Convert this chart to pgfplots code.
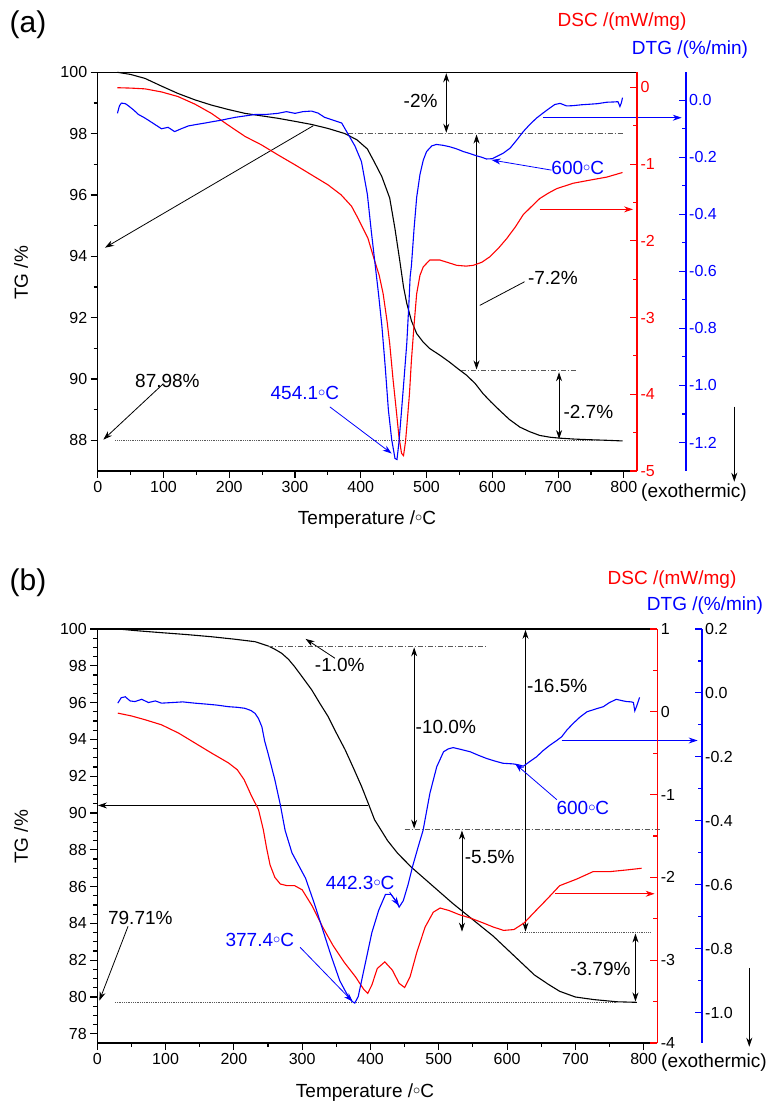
\documentclass[border=0pt]{standalone}
\usepackage{fontspec}
\setmainfont{Liberation Sans}
\usepackage{pgfplots}
\pgfplotsset{compat=1.18}
\usetikzlibrary{arrows.meta}

\newcommand{\fs}[1]{\fontsize{#1}{#1}\selectfont}
\newcommand{\dc}{\raisebox{3.2pt}{\fs{15}$\circ$}C}

\pgfplotsset{
  panel/.style={scale only axis, anchor=south west, xmin=0, clip=false,
    /pgf/number format/assume math mode=true,
    tick label style={font=\fs{16}},
    major tick length=7pt, minor tick length=4pt},
  tgaxis/.style={panel, xmax=820,
    axis x line*=bottom, axis y line*=left, tick align=outside,
    axis line style={line width=1.5pt},
    tick style={black, line width=1.1pt},
    xtick={0,100,...,800}, minor x tick num=1},
  sideaxis/.style 2 args={panel, axis x line=none, axis y line*=right,
    tick align=inside,
    axis line style={draw=#1, line width=1.6pt},
    every outer y axis line/.append style={draw=#1, line width=1.6pt},
    tick style={draw=#1, line width=1.1pt},
    yticklabel style={#2}},
  dtgfmt/.style={yticklabel style={/pgf/number format/.cd, fixed, fixed zerofill, precision=1}},
}
\tikzset{
  ann/.style={line width=0.8pt},
  arr/.style={ann, -{Stealth[length=9pt,width=6pt]}},
  darr/.style={ann, {Stealth[length=9pt,width=6pt]}-{Stealth[length=9pt,width=6pt]}},
  dashdot/.style={gray!70!black, line width=0.8pt, dash pattern=on 5pt off 2pt on 1pt off 2pt},
  dotl/.style={gray!70!black, line width=0.9pt, dash pattern=on 1pt off 0.8pt},
  txt/.style={font=\fs{19}, inner sep=0pt},
}

\begin{document}
\begin{tikzpicture}[x=1pt,y=1pt]
\useasboundingbox (0,0) rectangle (768,1105);

% ---------------- panel (a) ----------------
\begin{axis}[tgaxis, at={(97.7pt,634pt)}, width=539.3pt, height=398.7pt,
  ymin=87, ymax=100, ytick={88,90,...,100}, minor y tick num=1]
\addplot[black, line width=1.1pt] coordinates {
(30,100.0) (50,99.93) (72,99.8) (97,99.55) (122,99.31) (148,99.1) (173,98.93)
(198,98.79) (224,98.66) (249,98.58) (274,98.5) (300,98.4) (325,98.3) (350,98.17)
(376,98.0) (394,97.8) (410,97.5) (420,97.1) (432,96.6) (444,95.9) (452,94.9)
(459,93.9) (465,93.0) (470,92.46) (477,91.9) (485,91.48) (495,91.2) (505,90.99)
(520,90.78) (535,90.55) (548,90.33) (561,90.12) (574,89.85) (586,89.52) (598,89.25)
(611,88.98) (626,88.68) (642,88.43) (657,88.28) (672,88.16) (688,88.1) (703,88.07)
(725,88.04) (748,88.02) (775,88.0) (798,87.98)};
\draw[black, line width=1.5pt] (rel axis cs:0,1) -- (rel axis cs:1,1);
% annotations
\draw[dashdot] (axis cs:380,98) -- (axis cs:800,98);
\draw[darr] (axis cs:530,99.97) -- (axis cs:530,98.03);
\node[txt, anchor=east] at (axis cs:517,99.07) {-2\%};
\draw[darr] (axis cs:576,97.97) -- (axis cs:576,90.31);
\draw[ann] (axis cs:581,92.4) -- (axis cs:649,93.17);
\node[txt, anchor=west] at (axis cs:654,93.28) {-7.2\%};
\draw[dashdot] (axis cs:553,90.28) -- (axis cs:728,90.28);
\draw[darr] (axis cs:701.5,90.22) -- (axis cs:701.5,88.04);
\node[txt, anchor=west] at (axis cs:708,88.93) {-2.7\%};
\draw[dotl] (axis cs:27,87.98) -- (axis cs:758,87.98);
\node[txt] at (axis cs:106,89.94) {87.98\%};
\draw[arr] (axis cs:100,89.85) -- (axis cs:8.5,88.02);
\node[txt, text=blue] at (axis cs:315,89.55) {454.1\dc};
\draw[arr, blue] (axis cs:353,89.09) -- (axis cs:447,87.57);
\node[txt, text=blue] at (axis cs:730,96.88) {600\dc};
\draw[arr, blue] (axis cs:690,96.81) -- (axis cs:599,97.14);
\draw[arr] (axis cs:328,98.26) -- (axis cs:11,94.28);
\draw[arr, blue] (axis cs:677,98.52) -- (axis cs:888,98.52);
\draw[arr, red] (axis cs:672,95.53) -- (axis cs:814,95.53);
\end{axis}

\begin{axis}[sideaxis={red}{red}, at={(97.7pt,634pt)}, width=539.3pt, height=398.7pt,
  xmax=820, ymin=-5, ymax=0.196, ytick={-5,-4,...,0}, minor y tick num=1]
\addplot[red, line width=1.1pt] coordinates {
(30,-0.005) (50,-0.01) (72,-0.02) (97,-0.06) (122,-0.12) (148,-0.22) (173,-0.34)
(198,-0.49) (224,-0.64) (249,-0.75) (274,-0.88) (300,-1.01) (325,-1.14) (350,-1.27)
(370,-1.40) (386,-1.55) (396,-1.71) (404,-1.85) (411,-1.97) (420,-2.23) (428,-2.45)
(434,-2.69) (440,-3.05) (444,-3.34) (449,-3.8) (454,-4.21) (458,-4.55) (462,-4.77)
(465,-4.80) (468,-4.62) (470,-4.42) (474,-4.0) (477,-3.56) (481,-3.1) (485,-2.69)
(490,-2.45) (495,-2.34) (505,-2.25) (520,-2.25) (535,-2.29) (546,-2.32) (560,-2.33)
(571,-2.32) (584,-2.28) (596,-2.21) (609,-2.1) (622,-1.97) (635,-1.82) (647,-1.66)
(660,-1.55) (672,-1.45) (685,-1.38) (698,-1.32) (723,-1.25) (748,-1.21) (774,-1.17)
(798,-1.11)};
\end{axis}

\begin{axis}[sideaxis={blue}{blue}, dtgfmt, at={(97.7pt,634pt)}, width=588pt, height=398.7pt,
  xmax=894, ymin=-1.3, ymax=0.098, ytick={-1.2,-1,...,0}, minor y tick num=1]
\addplot[blue, line width=1.1pt] coordinates {
(30,-0.046) (33,-0.02) (36,-0.01) (42,-0.012) (47,-0.02) (55,-0.035) (62,-0.05)
(70,-0.06) (77,-0.07) (87,-0.085) (97,-0.10) (107,-0.095) (117,-0.11) (127,-0.10)
(138,-0.09) (150,-0.085) (163,-0.08) (175,-0.075) (188,-0.07) (198,-0.065) (209,-0.06)
(224,-0.055) (239,-0.05) (255,-0.05) (274,-0.046) (287,-0.04) (300,-0.046) (312,-0.04)
(325,-0.038) (335,-0.045) (345,-0.06) (358,-0.07) (371,-0.08) (381,-0.12) (391,-0.16)
(401,-0.215) (410,-0.33) (416,-0.46) (421,-0.56) (427,-0.68) (432,-0.79) (437,-0.93)
(442,-1.087) (447,-1.19) (452,-1.256) (455,-1.26) (458,-1.2) (462,-1.087) (466,-0.97)
(470,-0.85) (473,-0.72) (475,-0.62) (477,-0.58) (481,-0.45) (485,-0.34) (490,-0.26)
(495,-0.21) (500,-0.18) (508,-0.16) (515,-0.155) (525,-0.158) (535,-0.163) (545,-0.17)
(556,-0.18) (566,-0.187) (576,-0.195) (584,-0.2) (591,-0.206) (600,-0.205) (606,-0.198)
(617,-0.185) (627,-0.168) (637,-0.14) (647,-0.11) (657,-0.085) (667,-0.063) (677,-0.045)
(687,-0.028) (695,-0.015) (703,-0.011) (713,-0.02) (723,-0.019) (735,-0.016) (748,-0.014)
(760,-0.012) (774,-0.007) (785,-0.006) (791,-0.005) (794,-0.022) (796,-0.01) (798,0.009)};
\end{axis}

% ---------------- panel (b) ----------------
\begin{axis}[tgaxis, at={(97.3pt,62pt)}, width=560pt, height=414pt,
  ymin=77.5, ymax=100, ytick={78,80,...,100}, minor y tick num=3]
\addplot[black, line width=1.1pt] coordinates {
(30,100.0) (60,99.9) (94,99.8) (130,99.7) (167,99.58) (200,99.45) (231,99.31)
(250,99.08) (260,98.9) (270,98.68) (280,98.35) (289,97.95) (300,97.4) (314,96.69)
(326,95.95) (338,95.24) (350,94.35) (363,93.43) (375,92.45) (387,91.44) (397,90.5)
(406,89.63) (415,89.1) (425,88.5) (440,87.8) (460,87.05) (480,86.4) (500,85.75)
(520,85.1) (540,84.5) (560,83.9) (580,83.3) (600,82.6) (620,81.9) (640,81.2)
(660,80.7) (677,80.31) (700,80.0) (727,79.86) (761,79.74) (790,79.71)};
\draw[black, line width=1.5pt] (rel axis cs:0,1) -- (rel axis cs:1,1);
% annotations
\draw[dashdot] (axis cs:250,99.05) -- (axis cs:568,99.05);
\node[txt] at (axis cs:355,98.02) {-1.0\%};
\draw[arr] (axis cs:348,98.41) -- (axis cs:305,99.46);
\draw[darr] (axis cs:464,99.0) -- (axis cs:464,89.15);
\node[txt, anchor=west] at (axis cs:466,94.68) {-10.0\%};
\draw[dashdot] (axis cs:450,89.1) -- (axis cs:826,89.1);
\draw[darr] (axis cs:627,99.95) -- (axis cs:627,83.55);
\node[txt, anchor=west] at (axis cs:629,96.88) {-16.5\%};
\draw[darr] (axis cs:534,89.05) -- (axis cs:534,83.55);
\node[txt, anchor=west] at (axis cs:538,87.6) {-5.5\%};
\draw[dotl] (axis cs:619,83.5) -- (axis cs:809,83.5);
\draw[dotl] (axis cs:26,79.71) -- (axis cs:760,79.71);
\draw[darr] (axis cs:788,83.45) -- (axis cs:788,79.76);
\node[txt, anchor=east] at (axis cs:781,81.5) {-3.79\%};
\node[txt] at (axis cs:63,84.3) {79.71\%};
\draw[arr] (axis cs:45,83.84) -- (axis cs:3,79.8);
\node[txt, text=blue] at (axis cs:238,83.1) {377.4\dc};
\draw[arr, blue] (axis cs:297,82.7) -- (axis cs:374,79.75);
\node[txt, text=blue] at (axis cs:385,86.2) {442.3\dc};
\draw[arr, blue] (axis cs:428,85.7) -- (axis cs:442,84.95);
\node[txt, text=blue] at (axis cs:711,90.28) {600\dc};
\draw[arr, blue] (axis cs:673,90.72) -- (axis cs:612,92.67);
\draw[arr] (axis cs:397,90.41) -- (axis cs:1,90.41);
\draw[arr, blue] (axis cs:680,93.94) -- (axis cs:879,93.94);
\draw[arr, red] (axis cs:670,85.61) -- (axis cs:816,85.61);
\end{axis}

\begin{axis}[sideaxis={red}{black}, at={(97.3pt,62pt)}, width=560pt, height=414pt,
  xmax=820, ymin=-4, ymax=1, ytick={-4,-3,...,1}, minor y tick num=1]
\addplot[red, line width=1.1pt] coordinates {
(30,-0.016) (50,-0.05) (70,-0.096) (94,-0.157) (119,-0.257) (143,-0.377) (167,-0.497)
(192,-0.617) (205,-0.70) (215,-0.82) (226,-1.02) (236,-1.18) (243,-1.42) (248,-1.65)
(253,-1.85) (260,-2.0) (268,-2.08) (278,-2.1) (289,-2.1) (300,-2.15) (315,-2.35)
(330,-2.6) (345,-2.82) (362,-3.03) (378,-3.2) (390,-3.35) (396,-3.4) (402,-3.3)
(410,-3.1) (421,-3.02) (432,-3.12) (442,-3.28) (450,-3.33) (458,-3.2) (468,-2.9)
(480,-2.6) (492,-2.42) (502,-2.37) (515,-2.4) (530,-2.45) (546,-2.49) (565,-2.55)
(580,-2.6) (595,-2.64) (610,-2.63) (625,-2.55) (640,-2.42) (660,-2.25) (677,-2.10)
(702,-2.02) (726,-1.93) (751,-1.93) (775,-1.91) (797,-1.89)};
\end{axis}

\begin{axis}[sideaxis={blue}{black}, dtgfmt, at={(97.3pt,62pt)}, width=604.4pt, height=414pt,
  xmax=885, ymin=-1.095, ymax=0.2, ytick={-1,-0.8,...,0.2}, minor y tick num=1]
\addplot[blue, line width=1.1pt] coordinates {
(30,-0.032) (35,-0.015) (41,-0.012) (48,-0.025) (55,-0.027) (65,-0.02) (75,-0.03)
(85,-0.025) (94,-0.032) (110,-0.03) (125,-0.028) (143,-0.032) (160,-0.035) (175,-0.038)
(192,-0.043) (205,-0.045) (216,-0.048) (225,-0.055) (231,-0.064) (236,-0.08) (241,-0.106)
(245,-0.15) (250,-0.189) (255,-0.23) (260,-0.272) (268,-0.35) (275,-0.43) (285,-0.5)
(295,-0.54) (305,-0.58) (318,-0.66) (330,-0.74) (342,-0.82) (355,-0.9) (365,-0.94)
(373,-0.965) (377,-0.97) (382,-0.95) (392,-0.85) (402,-0.75) (412,-0.68) (422,-0.63)
(430,-0.63) (437,-0.65) (442,-0.67) (448,-0.65) (455,-0.6) (462,-0.54) (470,-0.48)
(477,-0.43) (487,-0.314) (497,-0.231) (507,-0.184) (514,-0.175) (521,-0.171) (533,-0.177)
(546,-0.184) (558,-0.195) (570,-0.205) (582,-0.213) (594,-0.22) (609,-0.222) (617,-0.225)
(624,-0.229) (633,-0.215) (643,-0.20) (653,-0.18) (663,-0.163) (672,-0.15) (680,-0.137)
(688,-0.115) (697,-0.095) (707,-0.075) (717,-0.059) (730,-0.05) (741,-0.043) (750,-0.03)
(760,-0.02) (768,-0.024) (775,-0.027) (782,-0.028) (785,-0.03) (787,-0.056) (790,-0.04)
(794,-0.014)};
\end{axis}

% ---------------- titles and labels ----------------
\node[font=\fs{30}] at (28,1080) {(a)};
\node[font=\fs{30}] at (28,522) {(b)};
\node[font=\fs{19}, text=red] at (622,1083) {DSC /(mW/mg)};
\node[font=\fs{19}, text=blue] at (690,1055) {DTG /(\%/min)};
\node[font=\fs{19}, text=red] at (672,525) {DSC /(mW/mg)};
\node[font=\fs{19}, text=blue] at (705,499) {DTG /(\%/min)};
\node[font=\fs{19}, rotate=90] at (21,832) {TG /\%};
\node[font=\fs{19}, rotate=90] at (21,268) {TG /\%};
\node[font=\fs{19}] at (367,585) {Temperature /\dc};
\node[font=\fs{19}] at (365,12) {Temperature /\dc};
\node[font=\fs{19}] at (694,612) {(exothermic)};
\node[font=\fs{19}] at (714,42) {(exothermic)};
\draw[arr] (734.3,698.3) -- (734.3,623.3);
\draw[arr] (749.3,137) -- (749.3,58.3);
\end{tikzpicture}
\end{document}
